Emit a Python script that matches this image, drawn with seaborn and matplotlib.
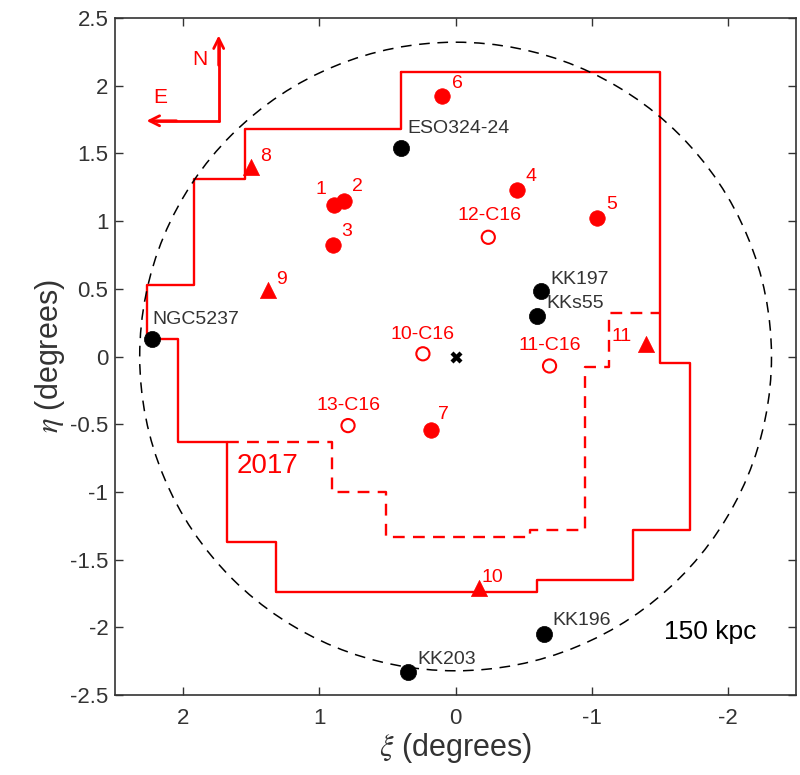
import numpy as np
import pandas as pd
import matplotlib
matplotlib.use("Agg")
import matplotlib.pyplot as plt
from matplotlib.patches import Circle
import seaborn as sns

# ---- data -------------------------------------------------------------
# new dwarf candidates (filled red circles)
cand_names = ["1", "2", "3", "4", "5", "6", "7"]
cand_xi = [0.89, 0.82, 0.90, -0.45, -1.04, 0.10, 0.18]
cand_eta = [1.12, 1.145, 0.82, 1.23, 1.02, 1.92, -0.54]

# lower-confidence candidates (red triangles)
tri_names = ["8", "9", "10", "11"]
tri_xi = [1.50, 1.38, -0.17, -1.40]
tri_eta = [1.40, 0.49, -1.71, 0.09]

# previously reported candidates (open red circles)
c16_names = ["10-C16", "11-C16", "12-C16", "13-C16"]
c16_xi = [0.24, -0.69, -0.24, 0.79]
c16_eta = [0.02, -0.07, 0.88, -0.51]

# known galaxies (black circles)
gal_names = ["ESO324-24", "KK197", "KKs55", "NGC5237", "KK203", "KK196"]
gal_xi = [0.40, -0.63, -0.60, 2.23, 0.35, -0.65]
gal_eta = [1.54, 0.48, 0.30, 0.13, -2.33, -2.05]

# survey footprint (solid) and the 2017 extension (dashed)
fp_xi = [0.40, -1.50, -1.50, -1.72, -1.72, -1.30, -1.30, -0.595, -0.595,
         1.32, 1.32, 1.68, 1.68, 2.04, 2.04, 2.27, 2.27, 1.92, 1.92, 1.55,
         1.55, 0.40, 0.40]
fp_eta = [2.10, 2.10, -0.05, -0.05, -1.28, -1.28, -1.65, -1.65, -1.74,
          -1.74, -1.37, -1.37, -0.63, -0.63, 0.13, 0.13, 0.53, 0.53, 1.31,
          1.31, 1.68, 1.68, 2.10]
ext_xi = [1.68, 0.91, 0.91, 0.51, 0.51, -0.55, -0.55, -0.95, -0.95, -1.13,
          -1.13, -1.50]
ext_eta = [-0.63, -0.63, -1.00, -1.00, -1.33, -1.33, -1.28, -1.28, -0.08,
           -0.08, 0.32, 0.32]

radius_150kpc = 2.32

# ---- label offsets (pixels) -------------------------------------------
cand_off = {"1": (-13, 15), "2": (13, 15), "3": (14, 14), "4": (14, 13),
            "5": (14, 14), "6": (15, 13), "7": (12, 15)}
tri_off = {"8": (14, 10), "9": (14, 11), "10": (14, 11), "11": (-25, 8)}
c16_off = {"10-C16": (0, 19), "11-C16": (0, 20), "12-C16": (1, 22),
           "13-C16": (0, 20)}
gal_off = {"ESO324-24": (6, 19), "KK197": (9, 12), "KKs55": (9, 12),
           "NGC5237": (0, 19), "KK203": (9, 13), "KK196": (8, 14)}

# ---- style ------------------------------------------------------------
sns.set_theme(style="ticks")
plt.rcParams["font.family"] = ["Liberation Sans", "DejaVu Sans"]
plt.rcParams["mathtext.fontset"] = "stix"
AX = "#333333"
RED = "#ff0000"

fig = plt.figure(figsize=(8.0, 7.75), dpi=100)
ax = fig.add_axes([0.144, 0.103, 0.851, 0.874])

cand = pd.DataFrame({"xi": cand_xi, "eta": cand_eta, "name": cand_names})
tri = pd.DataFrame({"xi": tri_xi, "eta": tri_eta, "name": tri_names})
c16 = pd.DataFrame({"xi": c16_xi, "eta": c16_eta, "name": c16_names})
gal = pd.DataFrame({"xi": gal_xi, "eta": gal_eta, "name": gal_names})

# footprint outlines and the 150 kpc circle
ax.plot(fp_xi, fp_eta, color=RED, lw=1.7, zorder=2)
ax.plot(ext_xi, ext_eta, color=RED, lw=1.7, ls=(0, (5, 3.5)), zorder=2)
ax.add_patch(Circle((0, 0), radius_150kpc, fill=False, ec="black", lw=1.1,
                    ls=(0, (7, 5)), zorder=2))

sns.scatterplot(data=cand, x="xi", y="eta", ax=ax, color=RED, marker="o",
                s=125, edgecolor=RED, linewidth=0.5, zorder=4)
sns.scatterplot(data=tri, x="xi", y="eta", ax=ax, color=RED, marker="^",
                s=135, edgecolor=RED, linewidth=0.5, zorder=4)
sns.scatterplot(data=c16, x="xi", y="eta", ax=ax, facecolor="none",
                marker="o", s=90, edgecolor=RED, linewidth=1.5, zorder=4)
sns.scatterplot(data=gal, x="xi", y="eta", ax=ax, color="black", marker="o",
                s=135, edgecolor="black", linewidth=0.5, zorder=4)
ax.scatter([0], [0], marker="X", s=75, color="black", linewidths=0, zorder=4)

for df, offs, col, ha in [(cand, cand_off, RED, "center"),
                          (tri, tri_off, RED, "center"),
                          (c16, c16_off, RED, "center"),
                          (gal, gal_off, AX, "left")]:
    for _, r in df.iterrows():
        ax.annotate(r["name"], (r["xi"], r["eta"]), xytext=offs[r["name"]],
                    textcoords="offset pixels", ha=ha, va="center",
                    color=col, fontsize=14, zorder=5)

# compass
corner = (1.74, 1.74)
ax.plot([corner[0], 2.20], [corner[1], corner[1]], color=RED, lw=2.0)
ax.plot([corner[0], corner[0]], [corner[1], 2.32], color=RED, lw=2.0)
ax.annotate("", xy=(1.74, 2.37), xytext=(1.74, 2.15),
            arrowprops=dict(arrowstyle="->", color=RED, lw=2.0,
                            mutation_scale=18, shrinkA=0, shrinkB=0))
ax.annotate("", xy=(2.27, 1.74), xytext=(2.05, 1.74),
            arrowprops=dict(arrowstyle="->", color=RED, lw=2.0,
                            mutation_scale=18, shrinkA=0, shrinkB=0))
ax.text(1.88, 2.19, "N", color=RED, fontsize=15, ha="center", va="center")
ax.text(2.17, 1.91, "E", color=RED, fontsize=15, ha="center", va="center")

ax.text(1.38, -0.81, "2017", color=RED, fontsize=20, ha="center",
        va="center")
ax.text(-1.87, -2.03, "150 kpc", color="black", fontsize=19, ha="center",
        va="center")

# axes
ax.set_xlim(2.5, -2.5)
ax.set_ylim(-2.5, 2.5)
ax.set_xticks([2, 1, 0, -1, -2])
ax.set_xticklabels(["2", "1", "0", "-1", "-2"])
yt = [2.5, 2, 1.5, 1, 0.5, 0, -0.5, -1, -1.5, -2, -2.5]
ax.set_yticks(yt)
ax.set_yticklabels(["2.5", "2", "1.5", "1", "0.5", "0", "-0.5", "-1",
                    "-1.5", "-2", "-2.5"])
ax.tick_params(direction="in", length=6, width=1.0, colors=AX,
               labelsize=16, top=True, right=True)
ax.tick_params(axis="x", pad=9)
ax.tick_params(axis="y", pad=5)
for sp in ax.spines.values():
    sp.set_visible(True)
    sp.set_color(AX)
    sp.set_linewidth(1.2)
ax.set_xlabel(r"$\xi$ (degrees)", fontsize=22, color=AX, labelpad=2)
ax.set_ylabel(r"$\eta$ (degrees)", fontsize=22, color=AX, labelpad=2)

fig.savefig("out.png", dpi=100)
